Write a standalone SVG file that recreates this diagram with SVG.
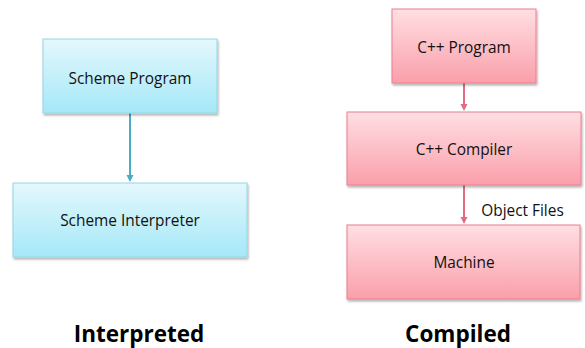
<svg xmlns="http://www.w3.org/2000/svg" width="585" height="348" viewBox="0 0 585 348">
<defs>
<linearGradient id="gb" x1="0" y1="0" x2="0" y2="1"><stop offset="0" stop-color="#e4f8fc"/><stop offset="1" stop-color="#a5e8f8"/></linearGradient>
<linearGradient id="gp" x1="0" y1="0" x2="0" y2="1"><stop offset="0" stop-color="#ffdfe3"/><stop offset="1" stop-color="#fa9faa"/></linearGradient>
<filter id="sh" x="-10%" y="-10%" width="120%" height="130%"><feDropShadow dx="1" dy="2" stdDeviation="1.2" flood-color="#000" flood-opacity="0.3"/></filter>
<marker id="ab" markerWidth="8" markerHeight="8" refX="4" refY="4" orient="auto" markerUnits="userSpaceOnUse"><path d="M0,0.5 L7,4 L0,7.5 Z" fill="#4bacc6"/></marker>
<marker id="ap" markerWidth="8" markerHeight="8" refX="4" refY="4" orient="auto" markerUnits="userSpaceOnUse"><path d="M0,0.5 L7,4 L0,7.5 Z" fill="#e46c80"/></marker>
</defs>
<style>
.b{fill:url(#gb);stroke:#93d6e6;stroke-width:1;filter:url(#sh)}
.p{fill:url(#gp);stroke:#ec7f90;stroke-width:1;filter:url(#sh)}
.t{font-family:"Open Sans","Liberation Sans",sans-serif;font-size:15.4px;fill:#111;text-anchor:middle}
.h{font-family:"Open Sans","Liberation Sans",sans-serif;font-size:22.5px;font-weight:bold;fill:#000;text-anchor:middle}
</style>
<rect width="585" height="348" fill="#fff"/>
<g id="connectors">
<line x1="130" y1="113" x2="130" y2="179" stroke="#4bacc6" stroke-width="2" marker-end="url(#ab)"/>
<line x1="464" y1="83" x2="464" y2="108" stroke="#e46c80" stroke-width="2" marker-end="url(#ap)"/>
<line x1="464" y1="185" x2="464" y2="221" stroke="#e46c80" stroke-width="2" marker-end="url(#ap)"/>
<text x="522.5" y="216" class="t">Object Files</text>
</g>
<g id="scheme-program"><rect x="43" y="39" width="174" height="74" class="b"/><text x="130" y="83.5" class="t">Scheme Program</text></g>
<g id="scheme-interpreter"><rect x="13" y="183" width="234" height="74" class="b"/><text x="130" y="226" class="t">Scheme Interpreter</text></g>
<g id="cpp-program"><rect x="392" y="9" width="144" height="74" class="p"/><text x="464" y="53" class="t">C++ Program</text></g>
<g id="cpp-compiler"><rect x="347" y="112" width="234" height="73" class="p"/><text x="464" y="155" class="t">C++ Compiler</text></g>
<g id="machine"><rect x="347" y="225" width="233" height="74" class="p"/><text x="464" y="268" class="t">Machine</text></g>
<text x="139" y="342" class="h">Interpreted</text>
<text x="458" y="342" class="h">Compiled</text>
</svg>
